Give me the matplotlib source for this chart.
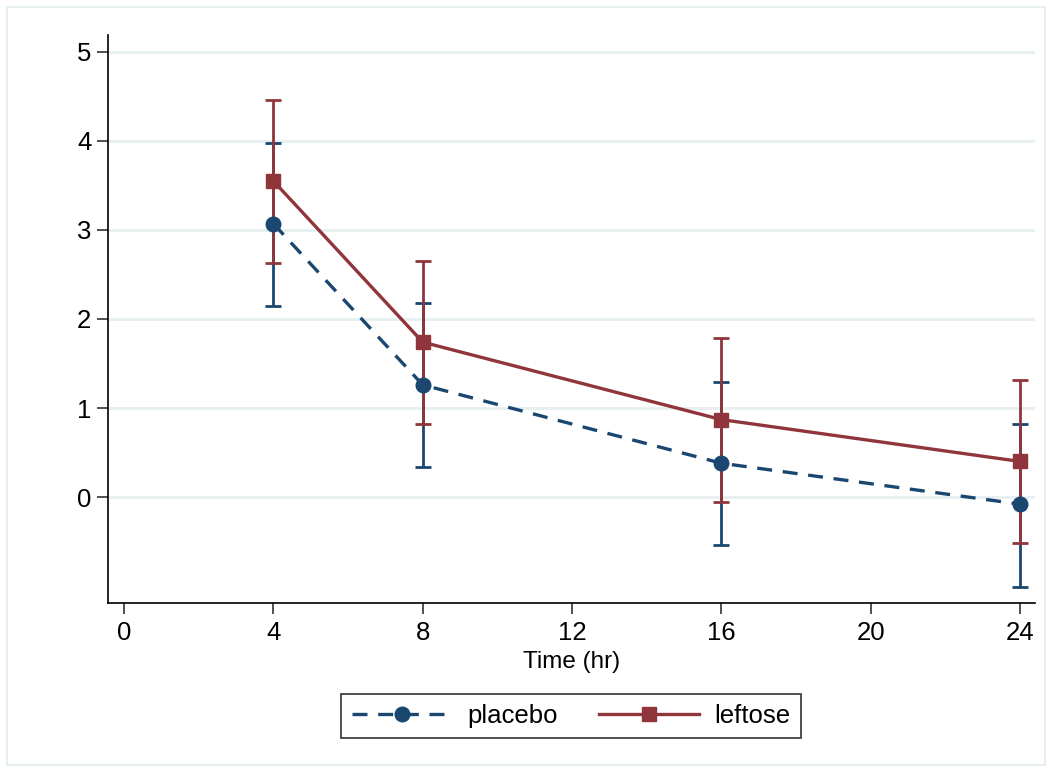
import matplotlib
matplotlib.use("Agg")
import matplotlib.pyplot as plt
from matplotlib.patches import Rectangle
import numpy as np

plt.rcParams['font.family'] = ['Liberation Sans', 'DejaVu Sans']

hours = [4, 8, 16, 24]

placebo_mean = [3.07, 1.26, 0.38, -0.08]
placebo_lo = [2.15, 0.34, -0.54, -1.01]
placebo_hi = [3.98, 2.18, 1.29, 0.82]

leftose_mean = [3.55, 1.74, 0.87, 0.40]
leftose_lo = [2.63, 0.82, -0.06, -0.52]
leftose_hi = [4.46, 2.65, 1.79, 1.31]

x_ticks = [0, 4, 8, 12, 16, 20, 24]
y_ticks = [0, 1, 2, 3, 4, 5]

navy = '#1a476f'
maroon = '#90353b'
grid_col = '#e6eff1'

fig = plt.figure(figsize=(10.5, 7.71), dpi=100)
fig.patches.append(Rectangle((7 / 1050, 6 / 771), 1038 / 1050, 758 / 771,
                             transform=fig.transFigure, fill=False,
                             edgecolor=grid_col, linewidth=1.5))
ax = fig.add_axes([108 / 1050, 1 - 603 / 771, 927 / 1050, 568 / 771])

for y in y_ticks:
    ax.axhline(y, color=grid_col, linewidth=2.0, zorder=0)

def caps(xs, lo, hi, color):
    pm = np.array(xs, dtype=float)
    ax.vlines(pm, lo, hi, color=color, linewidth=2.0, zorder=2)
    ax.plot(pm, lo, linestyle='none', marker='_', markersize=12,
            markeredgewidth=2.0, color=color, zorder=2)
    ax.plot(pm, hi, linestyle='none', marker='_', markersize=12,
            markeredgewidth=2.0, color=color, zorder=2)

caps(hours, placebo_lo, placebo_hi, navy)
caps(hours, leftose_lo, leftose_hi, maroon)

l1, = ax.plot(hours, placebo_mean, linestyle=(0, (4.5, 3.2)), color=navy,
              linewidth=2.4, marker='o', markersize=10.5, label='placebo', zorder=3)
l2, = ax.plot(hours, leftose_mean, linestyle='-', color=maroon,
              linewidth=2.4, marker='s', markersize=10, label='leftose', zorder=3)

ax.set_xlim(-0.43, 24.4)
ax.set_ylim(-1.19, 5.19)
ax.set_xticks(x_ticks)
ax.set_yticks(y_ticks)
ax.tick_params(axis='both', labelsize=18.5, length=8, width=1.2, color='#333333')
ax.tick_params(axis='y', pad=4)
ax.tick_params(axis='x', pad=5)
for s in ['top', 'right']:
    ax.spines[s].set_visible(False)
for s in ['left', 'bottom']:
    ax.spines[s].set_linewidth(1.2)
ax.set_xlabel('Time (hr)', fontsize=17.5, labelpad=4)

leg = fig.legend(handles=[l1, l2], loc='center', ncol=2,
                 bbox_to_anchor=(571 / 1050, 1 - 716 / 771),
                 fontsize=18.5, frameon=True, fancybox=False,
                 handlelength=3.9, columnspacing=1.6, handletextpad=0.6,
                 borderpad=0.4, borderaxespad=0)
leg.get_frame().set_edgecolor('black')
leg.get_frame().set_linewidth(1.2)

fig.savefig('out.png', dpi=100)
